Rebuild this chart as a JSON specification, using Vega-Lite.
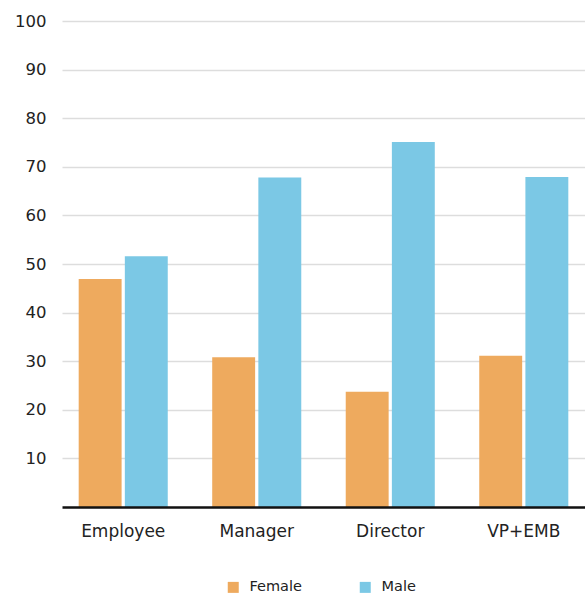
{
  "$schema": "https://vega.github.io/schema/vega-lite/v6.json",
  "width": 523,
  "height": 486,
  "autosize": "none",
  "padding": {"left": 62, "top": 21, "right": 0, "bottom": 89},
  "background": "white",
  "config": {"view": {"stroke": null}, "font": "DejaVu Sans"},
  "data": {
    "values": [
      {"level": "Employee", "gender": "Female", "value": 46.9},
      {"level": "Employee", "gender": "Male", "value": 51.6},
      {"level": "Manager", "gender": "Female", "value": 30.8},
      {"level": "Manager", "gender": "Male", "value": 67.8},
      {"level": "Director", "gender": "Female", "value": 23.7},
      {"level": "Director", "gender": "Male", "value": 75.1},
      {"level": "VP+EMB", "gender": "Female", "value": 31.1},
      {"level": "VP+EMB", "gender": "Male", "value": 67.9}
    ]
  },
  "mark": {"type": "bar"},
  "encoding": {
    "x": {
      "field": "level",
      "type": "nominal",
      "sort": ["Employee", "Manager", "Director", "VP+EMB"],
      "scale": {"paddingInner": 0.333, "paddingOuter": 0.125},
      "axis": {
        "title": null,
        "labelAngle": 0,
        "labelFontSize": 17,
        "labelColor": "#222222",
        "labelPadding": 16,
        "ticks": false,
        "domainColor": "#111111",
        "domainWidth": 2.5,
        "zindex": 1
      }
    },
    "xOffset": {
      "field": "gender",
      "type": "nominal",
      "scale": {"paddingInner": 0.07}
    },
    "y": {
      "field": "value",
      "type": "quantitative",
      "scale": {"domain": [0, 100], "nice": false},
      "axis": {
        "title": null,
        "values": [10, 20, 30, 40, 50, 60, 70, 80, 90, 100],
        "labelFontSize": 16.5,
        "labelColor": "#222222",
        "labelPadding": 16,
        "ticks": false,
        "domain": false,
        "gridColor": "#dddddd",
        "gridWidth": 1.5
      }
    },
    "color": {
      "field": "gender",
      "type": "nominal",
      "scale": {"domain": ["Female", "Male"], "range": ["#EEAA5E", "#7BC8E5"]},
      "legend": {
        "title": null,
        "orient": "none",
        "direction": "horizontal",
        "legendX": 164,
        "legendY": 559,
        "symbolType": "square",
        "symbolSize": 121,
        "symbolStrokeWidth": 0,
        "labelFontSize": 14.5,
        "labelColor": "#222222",
        "labelOffset": 9,
        "labelLimit": 0,
        "columnPadding": 56
      }
    }
  }
}
